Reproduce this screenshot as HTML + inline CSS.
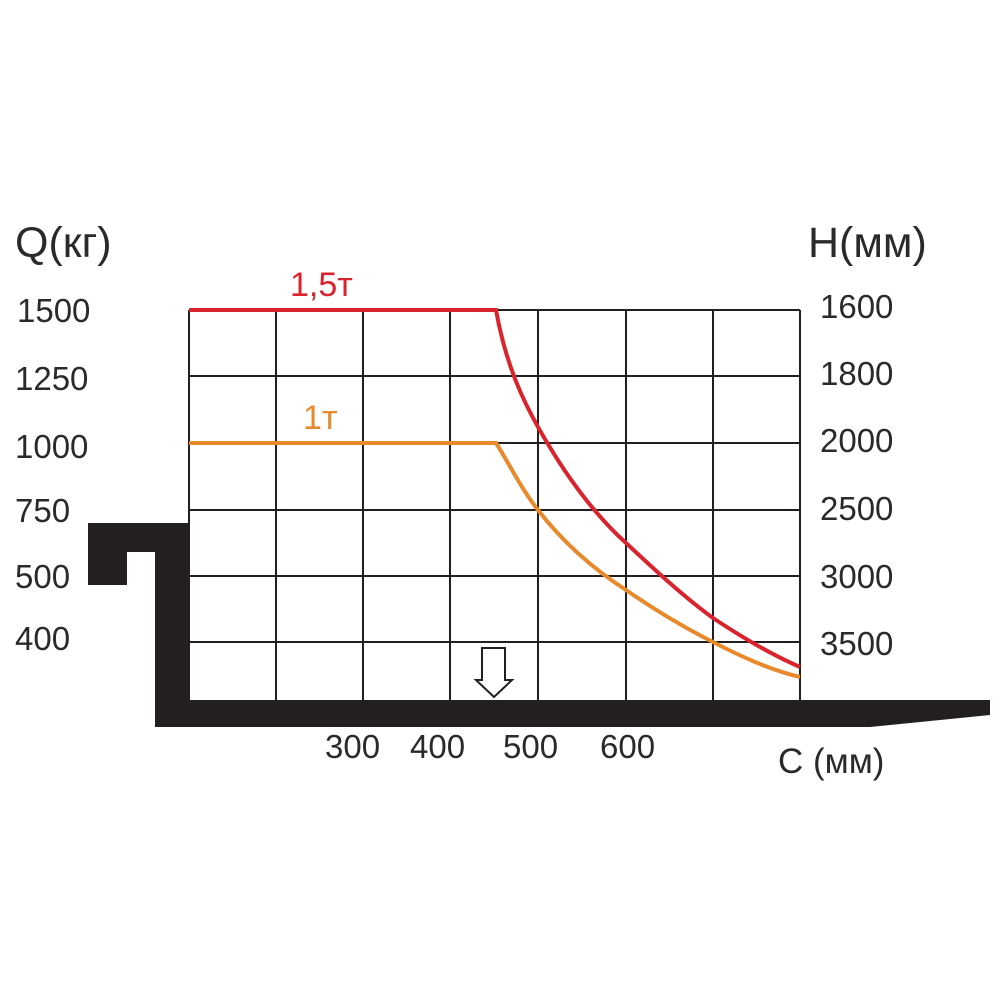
<!DOCTYPE html>
<html><head><meta charset="utf-8"><style>body{margin:0;background:#fff}</style></head><body>
<svg width="1000" height="1000" viewBox="0 0 1000 1000" xmlns="http://www.w3.org/2000/svg" font-family="Liberation Sans, sans-serif" fill="#2a2a2a">
<g stroke="#231f20" stroke-width="2" fill="none">
<path d="M189 310V700M276 310V700M363 310V700M450 310V700M538 310V700M626 310V700M713 310V700M800 310V700"/>
<path d="M189 310H800M189 376H800M189 443H800M189 510H800M189 576H800M189 642H800"/>
</g>
<path d="M88 523H189V700H990V715L870 727H155V552H127V585H88Z" fill="#231f20"/>
<path d="M482 648H505V680H512L494 697L476 680H482Z" fill="#fff" stroke="#231f20" stroke-width="2"/>
<path d="M189 310H496C505 360 520 395 538 427C565 475 595 515 626 543C655 570 685 598 713 618C740 636 770 654 800 667" fill="none" stroke="#d9232d" stroke-width="4"/>
<path d="M189 443H496C510 465 522 490 538 510C565 545 595 570 626 590C655 610 685 628 713 642C740 656 770 670 800 677" fill="none" stroke="#e8892b" stroke-width="4"/>
<g font-size="33">
<text x="15" y="257" font-size="43">Q(кг)</text>
<text x="17" y="322">1500</text>
<text x="15" y="390">1250</text>
<text x="15" y="458">1000</text>
<text x="15" y="522">750</text>
<text x="15" y="588">500</text>
<text x="15" y="650">400</text>
<text x="808" y="257" font-size="43">H(мм)</text>
<text x="820" y="318">1600</text>
<text x="820" y="385">1800</text>
<text x="820" y="452">2000</text>
<text x="820" y="520">2500</text>
<text x="820" y="588">3000</text>
<text x="820" y="655">3500</text>
<text x="325" y="758">300</text>
<text x="410" y="758">400</text>
<text x="503" y="758">500</text>
<text x="600" y="758">600</text>
<text x="778" y="773" font-size="35">С (мм)</text>
<text x="290" y="296" fill="#d9232d" font-size="34">1,5т</text>
<text x="303" y="429" fill="#e8892b" font-size="34">1т</text>
</g>
</svg>
</body></html>
